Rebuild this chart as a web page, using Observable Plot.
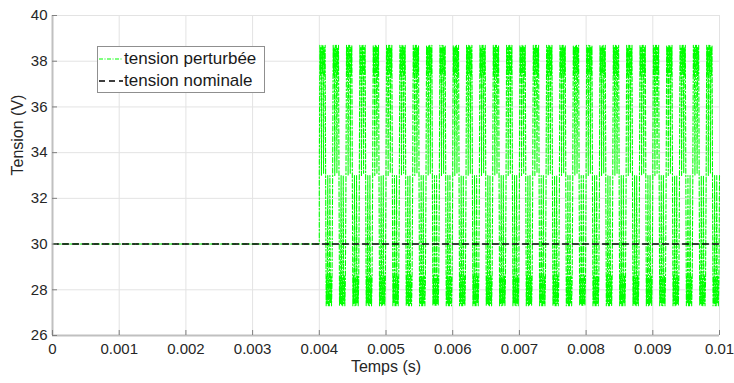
<!DOCTYPE html>
<html><head><meta charset="utf-8">
<script src="https://cdn.jsdelivr.net/npm/d3@7"></script>
<script src="https://cdn.jsdelivr.net/npm/@observablehq/plot@0.6"></script>
<style>
body{margin:0;background:#fff;font-family:"Liberation Sans",Arial,sans-serif;}
#wrap{position:relative;width:734px;height:383px;}
#legend{position:absolute;left:97px;top:46px;width:166px;height:45px;border:1px solid #8f8f8f;background:#fff;}
.row{position:absolute;left:0;height:22px;display:flex;align-items:center;font-size:17px;color:#1a1a1a;white-space:nowrap;}
.row svg{margin-right:0px;}
</style></head><body><div id="wrap"></div>
<script>
// ---- data ----
const xTicks = [0, 0.001, 0.002, 0.003, 0.004, 0.005, 0.006, 0.007, 0.008, 0.009, 0.01];
const xTickLabels = ["0", "0.001", "0.002", "0.003", "0.004", "0.005", "0.006", "0.007", "0.008", "0.009", "0.01"];
const yTicks = [26, 28, 30, 32, 34, 36, 38, 40];
const nominalTimes = [0, 0.01];
const nominalValues = [30, 30];
const preTimes = [0, 0.004];
const preValues = [30, 30];
// start time of each switching period (s)
const cycleStarts = [0.0040, 0.0042, 0.0044, 0.0046, 0.0048, 0.0050, 0.0052, 0.0054, 0.0056, 0.0058,
  0.0060, 0.0062, 0.0064, 0.0066, 0.0068, 0.0070, 0.0072, 0.0074, 0.0076, 0.0078,
  0.0080, 0.0082, 0.0084, 0.0086, 0.0088, 0.0090, 0.0092, 0.0094, 0.0096, 0.0098];
// waveform inside one period: offset in microseconds, value in volts
const upperOffsetsUs = [0, 8, 16, 24, 32, 40, 48, 56, 64, 72, 80, 88, 95];
const upperValues = [33.0, 38.7, 37.4, 38.6, 33.0, 38.7, 37.5, 38.7, 33.1, 38.6, 37.4, 38.7, 33.0];
const lowerOffsetsUs = [103, 111, 119, 127, 135, 143, 151, 159, 167, 175, 183, 191, 200];
const lowerValues = [27.3, 28.6, 27.4, 33.0, 27.3, 28.5, 27.3, 33.0, 27.4, 28.6, 27.3, 28.4, 33.0];

// ---- build tables ----
const nominal = nominalTimes.map((t, i) => ({t, v: nominalValues[i]}));
const perturbed = preTimes.map((t, i) => ({t, v: preValues[i]}));
for (const t0 of cycleStarts) {
  upperOffsetsUs.forEach((o, i) => perturbed.push({t: t0 + o * 1e-6, v: upperValues[i]}));
  lowerOffsetsUs.forEach((o, i) => perturbed.push({t: t0 + o * 1e-6, v: lowerValues[i]}));
}

const chart = Plot.plot({
  width: 734, height: 383,
  marginLeft: 52, marginRight: 15, marginTop: 15, marginBottom: 48,
  style: {fontFamily: "Liberation Sans, Arial, sans-serif", fontSize: "15px", color: "#262626", background: "#fff"},
  x: {domain: [0, 0.01]},
  y: {domain: [26, 40]},
  marks: [
    Plot.ruleX(xTicks, {stroke: "#e3e3e3"}),
    Plot.ruleY(yTicks, {stroke: "#e3e3e3"}),
    Plot.line(perturbed, {x: "t", y: "v", stroke: "#00ff00", strokeWidth: 1.1, strokeDasharray: "5,2,1.5,2"}),
    Plot.line(nominal, {x: "t", y: "v", stroke: "#000", strokeWidth: 1.5, strokeDasharray: "6,4"}),
    Plot.ruleX([xTicks[0]], {stroke: "#c0c0c0", strokeWidth: 2}),
    Plot.ruleY([yTicks[0]], {stroke: "#c0c0c0", strokeWidth: 2}),
    Plot.ruleX(xTicks, {insetTop: 315, stroke: "#808080"}),
    Plot.ruleY(yTicks, {insetRight: 662, stroke: "#808080"}),
    Plot.axisX(xTicks, {tickSize: 0, tickPadding: 8, tickFormat: d => xTickLabels[xTicks.indexOf(d)], label: null, fontSize: 15}),
    Plot.axisY(yTicks, {tickSize: 0, tickPadding: 5, label: null, fontSize: 15}),
    Plot.text(["Temps (s)"], {frameAnchor: "bottom", dy: 36, fontSize: 16, fill: "#262626"}),
    Plot.text(["Tension (V)"], {frameAnchor: "left", dx: -35, rotate: -90, fontSize: 16, fill: "#262626"})
  ]
});
const wrap = document.getElementById("wrap");
wrap.appendChild(chart);

const legend = document.createElement("div");
legend.id = "legend";
legend.innerHTML = `
<div class="row" style="top:1px"><svg width="26" height="10"><line x1="1" x2="25" y1="5" y2="5" stroke="#00ff00" stroke-width="1.2" stroke-dasharray="4,1.5,1,1.5"/></svg>tension perturbée</div>
<div class="row" style="top:23px"><svg width="26" height="10"><line x1="1" x2="25" y1="5" y2="5" stroke="#000" stroke-width="1.3" stroke-dasharray="6,4"/></svg>tension nominale</div>`;
wrap.appendChild(legend);
</script></body></html>
